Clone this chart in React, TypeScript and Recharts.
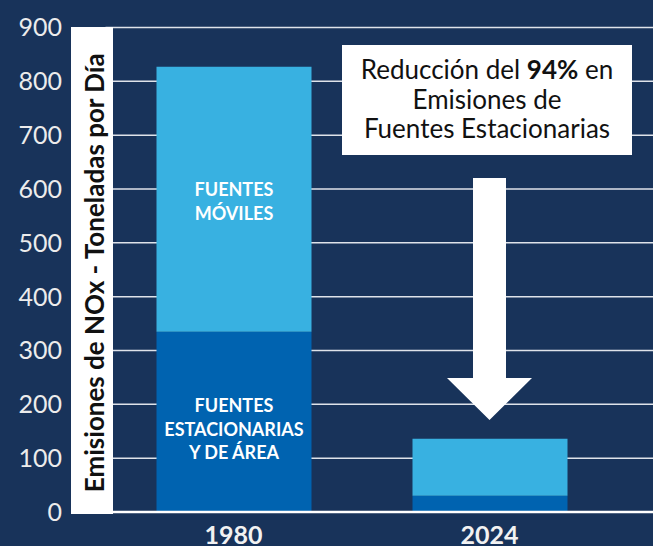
import { BarChart, Bar, XAxis, YAxis, CartesianGrid, LabelList } from 'recharts';

const years = ['1980', '2024'];
const stationary = [335, 30];
const mobile = [492, 106];
const yTicks = [0, 100, 200, 300, 400, 500, 600, 700, 800, 900];

const chartData = years.map((year, i) => ({
  year,
  stationary: stationary[i],
  mobile: mobile[i],
}));

const FONT = 'Lato, sans-serif';
const NAVY = '#18335a';

const AxisTitle = (props: any) => {
  const vb = props.viewBox;
  if (!vb) return null;
  const left = vb.x + vb.width - 34.5;
  return (
    <g>
      <rect x={left} y={vb.y - 0.5} width={42} height={vb.height + 2.5} fill="#fff" />
      <text
        transform={`translate(${left + 33}, ${vb.y + vb.height / 2 + 3}) rotate(-90)`}
        textAnchor="middle"
        fontFamily={FONT}
        fontWeight={700}
        fontSize={26}
        fill="#111"
      >
        Emisiones de NOx - Toneladas por Día
      </text>
    </g>
  );
};

// multi-line white caption, only drawn inside the 1980 bar
const segmentLabel = (lines: string[], shift: number) => (props: any) => {
  const { x, y, width, height, index } = props;
  if (index !== 0) return null;
  const cx = Number(x) + Number(width) / 2;
  const cy = Number(y) + Number(height) / 2 + shift;
  const step = 23.5;
  const start = cy - ((lines.length - 1) * step) / 2;
  return (
    <g>
      {lines.map((l, k) => (
        <text
          key={k}
          x={cx}
          y={start + k * step}
          textAnchor="middle"
          dominantBaseline="central"
          fontFamily={FONT}
          fontWeight={700}
          fontSize={18}
          fill="#fff"
        >
          {l}
        </text>
      ))}
    </g>
  );
};

const Annotation = () => (
  <g>
    <rect x={342} y={45} width={290} height={110} fill="#fff" />
    <text x={487} y={79} textAnchor="middle" fontFamily={FONT} fontSize={26} fill="#111">
      Reducción del <tspan fontWeight={700}>94%</tspan> en
    </text>
    <text x={487} y={108.5} textAnchor="middle" fontFamily={FONT} fontSize={26} fill="#111">
      Emisiones de
    </text>
    <text x={487} y={138} textAnchor="middle" fontFamily={FONT} fontSize={26} fill="#111">
      Fuentes Estacionarias
    </text>
    <polygon
      points="473,178 506,178 506,378 532,378 489.5,420 447,378 473,378"
      fill="#fff"
    />
  </g>
);

export default function App() {
  return (
    <div style={{ width: 653, height: 546, background: NAVY }}>
      <style>{'body{margin:0}'}</style>
      <BarChart
        width={653}
        height={546}
        data={chartData}
        margin={{ top: 27.5, right: 0, bottom: 0, left: 0 }}
        barSize={155}
      >
        <CartesianGrid horizontal vertical={false} stroke="#dfe3ea" strokeWidth={1.5} />
        <XAxis
          dataKey="year"
          height={34}
          padding={{ left: 0, right: 35.5 }}
          tickLine={false}
          tickSize={0}
          tickMargin={14}
          axisLine={{ stroke: '#fff', strokeWidth: 2.5 }}
          tick={{ fill: '#f2f2f2', fontSize: 25, fontWeight: 700, fontFamily: FONT }}
        />
        <YAxis
          type="number"
          domain={[0, 900]}
          ticks={yTicks}
          width={105.5}
          axisLine={false}
          tickLine={false}
          tickSize={0}
          tickMargin={43.5}
          interval={0}
          tick={{ fill: '#ececec', fontSize: 25, fontFamily: FONT }}
          label={{ position: 'center', content: (p: any) => <AxisTitle {...p} /> }}
        />
        <Bar dataKey="stationary" stackId="a" fill="#0063b0" isAnimationActive={false}>
          <LabelList content={segmentLabel(['FUENTES', 'ESTACIONARIAS', 'Y DE ÁREA'], 7)} />
        </Bar>
        <Bar dataKey="mobile" stackId="a" fill="#38b1e1" isAnimationActive={false}>
          <LabelList content={segmentLabel(['FUENTES', 'MÓVILES'], 2)} />
        </Bar>
        <Annotation />
      </BarChart>
    </div>
  );
}
